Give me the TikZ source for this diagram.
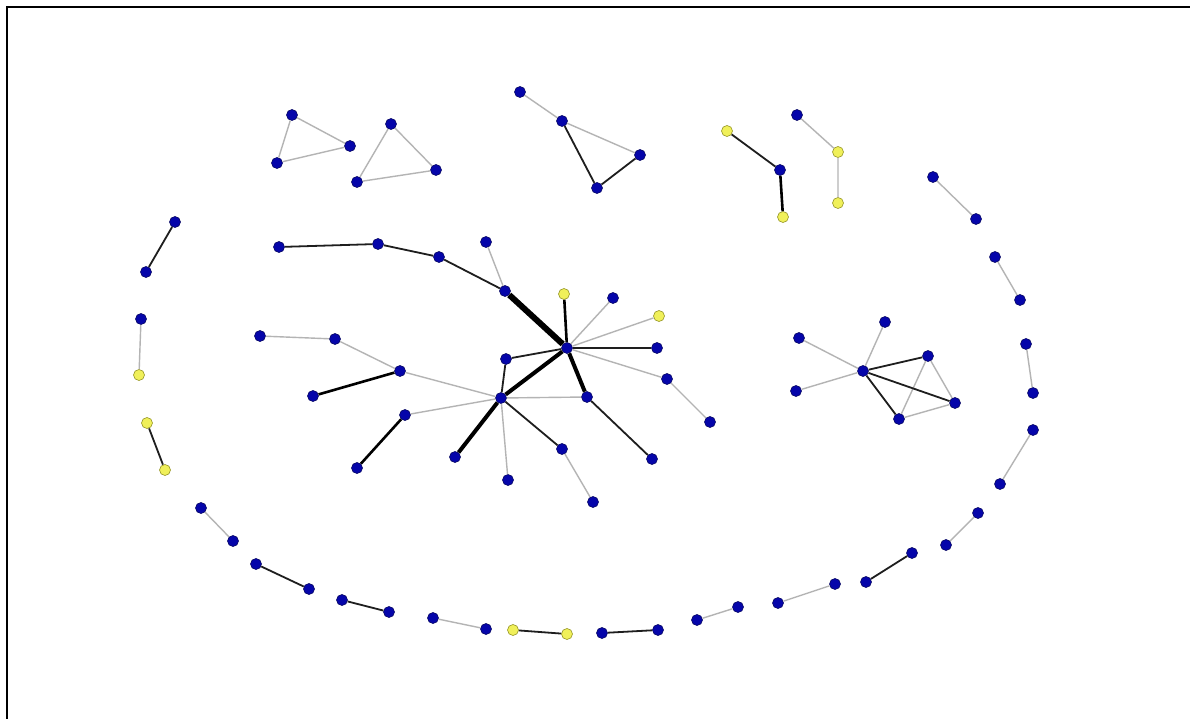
\documentclass[tikz,border=0pt]{standalone}
\begin{document}
\begin{tikzpicture}[x=1pt,y=-1pt,
  bn/.style={circle,draw={rgb,255:red,10;green,10;blue,100},fill={rgb,255:red,5;green,5;blue,170},line width=0.6pt,minimum size=11pt,inner sep=0pt},
  yn/.style={circle,draw={rgb,255:red,150;green,150;blue,40},fill={rgb,255:red,240;green,240;blue,90},line width=0.6pt,minimum size=11pt,inner sep=0pt},
  ge/.style={draw={rgb,255:red,180;green,180;blue,180},line width=1.4pt},
  be/.style={draw={rgb,255:red,30;green,30;blue,30},line width=1.8pt},
  me/.style={draw=black,line width=2.6pt},
  te/.style={draw=black,line width=4pt},
  ve/.style={draw=black,line width=6pt}]
\useasboundingbox (0,0) rectangle (1190,719);
\fill[white] (0,0) rectangle (1190,719);
\draw[line width=2.5pt] (7,719) -- (7,7) -- (1190,7);
% triangles
\node[bn] (a1) at (292,115) {};
\node[bn] (a2) at (350,146) {};
\node[bn] (a3) at (277,163) {};
\node[bn] (b1) at (391,124) {};
\node[bn] (b2) at (436,170) {};
\node[bn] (b3) at (357,182) {};
\node[bn] (c0) at (520,92) {};
\node[bn] (c1) at (562,121) {};
\node[bn] (c2) at (640,155) {};
\node[bn] (c3) at (597,188) {};
\node[yn] (d1) at (727,131) {};
\node[bn] (d2) at (780,170) {};
\node[yn] (d3) at (783,217) {};
\node[bn] (e1) at (797,115) {};
\node[yn] (e2) at (838,152) {};
\node[yn] (e3) at (838,203) {};
% left pairs
\node[bn] (l1) at (175,222) {};
\node[bn] (l2) at (146,272) {};
\node[bn] (l3) at (141,319) {};
\node[yn] (l4) at (139,375) {};
\node[yn] (l5) at (147,423) {};
\node[yn] (l6) at (165,470) {};
% ring pairs
\node[bn] (r1) at (933,177) {};
\node[bn] (r2) at (976,219) {};
\node[bn] (r3) at (995,257) {};
\node[bn] (r4) at (1020,300) {};
\node[bn] (r5) at (1026,344) {};
\node[bn] (r6) at (1033,393) {};
\node[bn] (r7) at (1033,430) {};
\node[bn] (r8) at (1000,484) {};
\node[bn] (r9) at (978,513) {};
\node[bn] (r10) at (946,545) {};
\node[bn] (r11) at (912,553) {};
\node[bn] (r12) at (866,582) {};
\node[bn] (r13) at (835,584) {};
\node[bn] (r14) at (778,603) {};
\node[bn] (r15) at (738,607) {};
\node[bn] (r16) at (697,620) {};
\node[bn] (r17) at (658,630) {};
\node[bn] (r18) at (602,633) {};
\node[yn] (r19) at (567,634) {};
\node[yn] (r20) at (513,630) {};
\node[bn] (r21) at (486,629) {};
\node[bn] (r22) at (433,618) {};
\node[bn] (r23) at (389,612) {};
\node[bn] (r24) at (342,600) {};
\node[bn] (r25) at (309,589) {};
\node[bn] (r26) at (256,564) {};
\node[bn] (r27) at (233,541) {};
\node[bn] (r28) at (201,508) {};
% central cluster
\node[bn] (C) at (567,348) {};
\node[bn] (p1) at (279,247) {};
\node[bn] (p2) at (378,244) {};
\node[bn] (p3) at (439,257) {};
\node[bn] (p4) at (505,291) {};
\node[bn] (p5) at (486,242) {};
\node[yn] (c4) at (564,294) {};
\node[bn] (c5) at (613,298) {};
\node[yn] (c6) at (659,316) {};
\node[bn] (c7) at (657,348) {};
\node[bn] (c8) at (667,379) {};
\node[bn] (c9) at (710,422) {};
\node[bn] (c10) at (587,397) {};
\node[bn] (c11) at (652,459) {};
\node[bn] (c12) at (506,359) {};
\node[bn] (D) at (501,398) {};
\node[bn] (q1) at (400,371) {};
\node[bn] (q2) at (335,339) {};
\node[bn] (q3) at (260,336) {};
\node[bn] (q4) at (313,396) {};
\node[bn] (q5) at (405,415) {};
\node[bn] (q6) at (357,468) {};
\node[bn] (q7) at (455,457) {};
\node[bn] (q8) at (508,480) {};
\node[bn] (q9) at (562,449) {};
\node[bn] (q10) at (593,502) {};
% right cluster
\node[bn] (E) at (863,371) {};
\node[bn] (f1) at (799,338) {};
\node[bn] (f2) at (796,391) {};
\node[bn] (f3) at (885,322) {};
\node[bn] (f4) at (928,356) {};
\node[bn] (f5) at (955,403) {};
\node[bn] (f6) at (899,419) {};
% edges
\path[ge] (a1) -- (a2) (a2) -- (a3) (a3) -- (a1);
\path[ge] (b1) -- (b2) (b2) -- (b3) (b3) -- (b1);
\path[ge] (c0) -- (c1) (c1) -- (c2);
\path[be] (c1) -- (c3) (c3) -- (c2);
\path[be] (d1) -- (d2);
\path[me] (d2) -- (d3);
\path[ge] (e1) -- (e2) (e2) -- (e3);
\path[be] (l1) -- (l2) (l5) -- (l6);
\path[ge] (l3) -- (l4);
\path[ge] (r1) -- (r2) (r3) -- (r4) (r5) -- (r6) (r7) -- (r8) (r9) -- (r10)
  (r13) -- (r14) (r15) -- (r16) (r21) -- (r22) (r27) -- (r28);
\path[be] (r11) -- (r12) (r17) -- (r18) (r19) -- (r20) (r23) -- (r24) (r25) -- (r26);
\path[be] (p1) -- (p2) (p2) -- (p3) (p3) -- (p4);
\path[ve] (p4) -- (C);
\path[ge] (p5) -- (p4);
\path[me] (C) -- (c4);
\path[ge] (C) -- (c5) (C) -- (c6) (C) -- (c8) (c8) -- (c9);
\path[be] (C) -- (c7);
\path[te] (C) -- (c10);
\path[be] (C) -- (c12);
\path[te] (C) -- (D);
\path[be] (D) -- (c12) (c10) -- (c11) (D) -- (q9);
\path[ge] (D) -- (c10) (D) -- (q1) (q1) -- (q2) (q2) -- (q3) (D) -- (q5) (D) -- (q8) (q9) -- (q10);
\path[me] (q1) -- (q4) (q5) -- (q6);
\path[te] (D) -- (q7);
\path[ge] (f1) -- (E) (f2) -- (E) (f3) -- (E) (f4) -- (f5) (f4) -- (f6) (f6) -- (f5);
\path[be] (E) -- (f4) (E) -- (f5) (E) -- (f6);
\end{tikzpicture}
\end{document}
